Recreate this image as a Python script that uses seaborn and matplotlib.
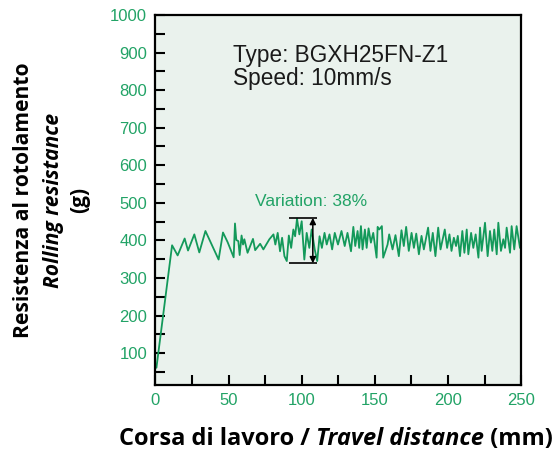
import matplotlib
matplotlib.use("Agg")
import matplotlib.pyplot as plt
import seaborn as sns
from matplotlib.offsetbox import TextArea, HPacker, AnnotationBbox

# travel distance (mm) and rolling resistance (g)
travel_mm = [0.7, 11.4, 15.2, 20.0, 22.3, 26.6, 30.0, 34.2, 43.2, 46.2,
             49.4, 53.5, 54.4, 55.3, 56.7, 57.6, 58.9, 59.9, 60.8, 63.0,
             66.7, 68.2, 71.6, 73.8, 77.9, 80.7, 82.0, 83.6, 85.2, 86.6,
             88.2, 89.8, 91.2, 92.8, 94.3, 95.5, 96.8, 98.4, 100.0, 101.8,
             103.4, 105.2, 106.8, 108.9, 110.6, 112.2, 113.8, 115.6, 117.1, 119.0,
             120.8, 122.6, 124.8, 127.2, 129.4, 131.3, 133.7, 135.3, 136.6, 138.2,
             139.3, 140.5, 141.6, 143.2, 144.4, 145.7, 147.3, 148.9, 151.2, 151.9,
             153.0, 154.8, 155.7, 158.7, 159.8, 162.1, 164.1, 166.4, 168.2, 169.8,
             171.4, 173.2, 175.1, 176.7, 178.3, 180.1, 181.9, 183.5, 186.4, 188.0,
             189.6, 191.4, 193.3, 194.9, 197.8, 199.4, 201.0, 202.4, 204.0, 205.5,
             206.7, 208.2, 209.8, 211.2, 212.8, 213.9, 215.8, 217.3, 218.9, 220.8,
             221.9, 223.0, 225.3, 227.1, 228.7, 230.3, 231.6, 233.3, 234.4, 236.2,
             237.8, 239.0, 240.1, 242.4, 243.5, 245.3, 246.9, 249.2]
resistance_g = [61, 387, 360, 405, 373, 416, 368, 425, 349, 421,
                395, 355, 445, 401, 398, 361, 413, 389, 403, 367,
                404, 374, 391, 376, 403, 416, 389, 420, 371, 407,
                358, 345, 413, 380, 429, 411, 458, 416, 451, 349,
                420, 380, 429, 376, 345, 411, 380, 420, 389, 416,
                376, 420, 389, 425, 385, 420, 371, 436, 385, 425,
                380, 438, 376, 429, 380, 432, 394, 420, 354, 436,
                429, 438, 354, 389, 416, 376, 414, 358, 427, 385,
                436, 372, 420, 380, 418, 363, 412, 376, 434, 372,
                420, 358, 434, 376, 429, 380, 416, 372, 407, 385,
                412, 358, 425, 367, 429, 363, 420, 380, 416, 354,
                434, 372, 447, 358, 425, 372, 429, 363, 447, 372,
                403, 380, 434, 367, 438, 376, 438, 380]

x_ticks = [0, 50, 100, 150, 200, 250]
y_ticks = [100, 200, 300, 400, 500, 600, 700, 800, 900, 1000]
variation_top, variation_bottom = 460, 339
variation_x = (91, 110.5)
variation_arrow_x = 107.6

line_green = "#13995a"
text_green = "#22a366"

sns.set_style("ticks")
plt.rcParams["font.family"] = ["Liberation Sans", "DejaVu Sans"]

fig = plt.figure(figsize=(5.55, 4.53), dpi=100)
ax = fig.add_axes([0.280, 0.150, 0.659, 0.817])
ax.set_facecolor("#eaf2ed")

sns.lineplot(x=travel_mm, y=resistance_g, ax=ax, color=line_green,
             linewidth=1.3, sort=False, estimator=None)

ax.set_xlim(0, 250)
ax.set_ylim(15, 1000)
ax.set_xticks(x_ticks)
ax.set_xticks([25, 75, 125, 175, 225], minor=True)
ax.set_yticks(y_ticks)
ax.set_yticks([50, 150, 250, 350, 450, 550, 650, 750, 850, 950], minor=True)
ax.tick_params(which="both", direction="in", length=7, width=1.5, color="black",
               labelcolor=text_green, labelsize=12, pad=6,
               top=False, right=False)
for s in ax.spines.values():
    s.set_linewidth(1.6)
    s.set_color("black")
ax.set_xlabel("")
ax.set_ylabel("")

# info text
ax.text(0.213, 0.873, "Type: BGXH25FN-Z1", transform=ax.transAxes,
        fontsize=16.3, color="#1a1a1a", va="baseline", ha="left")
ax.text(0.213, 0.811, "Speed: 10mm/s", transform=ax.transAxes,
        fontsize=16.3, color="#1a1a1a", va="baseline", ha="left")

# variation marker
ax.hlines([variation_top, variation_bottom], *variation_x, color="black", linewidth=1.2)
ax.annotate("", xy=(variation_arrow_x, variation_top), xytext=(variation_arrow_x, variation_bottom),
            arrowprops=dict(arrowstyle="<|-|>", color="black", lw=1.1,
                            mutation_scale=9, shrinkA=0, shrinkB=0))
ax.text(106.4, 504, "Variation: 38%", color=text_green, fontsize=12.5,
        ha="center", va="center")

# axis titles with mixed italic
xbold = dict(fontfamily="Open Sans", fontweight="bold", fontsize=17, color="black")
xbold_it = dict(xbold, fontstyle="italic")
xl = HPacker(children=[TextArea("Corsa di lavoro / ", textprops=xbold),
                       TextArea("Travel distance", textprops=xbold_it),
                       TextArea(" (mm)", textprops=xbold)],
             align="baseline", pad=0, sep=0)
fig.add_artist(AnnotationBbox(xl, (0.605, 0.03), xycoords="figure fraction",
                              frameon=False, box_alignment=(0.5, 0.5)))

ybold = dict(fontfamily="Open Sans", fontweight="bold", fontsize=15.1, color="black")
ybold_it = dict(ybold, fontstyle="italic")
fig.text(0.043, 0.558, "Resistenza al rotolamento", rotation=90,
         ha="center", va="center", **ybold)
fig.text(0.096, 0.558, "Rolling resistance", rotation=90,
         ha="center", va="center", **ybold_it)
fig.text(0.143, 0.558, "(g)", rotation=90, ha="center", va="center", **ybold)

fig.savefig("out.png", dpi=100)
